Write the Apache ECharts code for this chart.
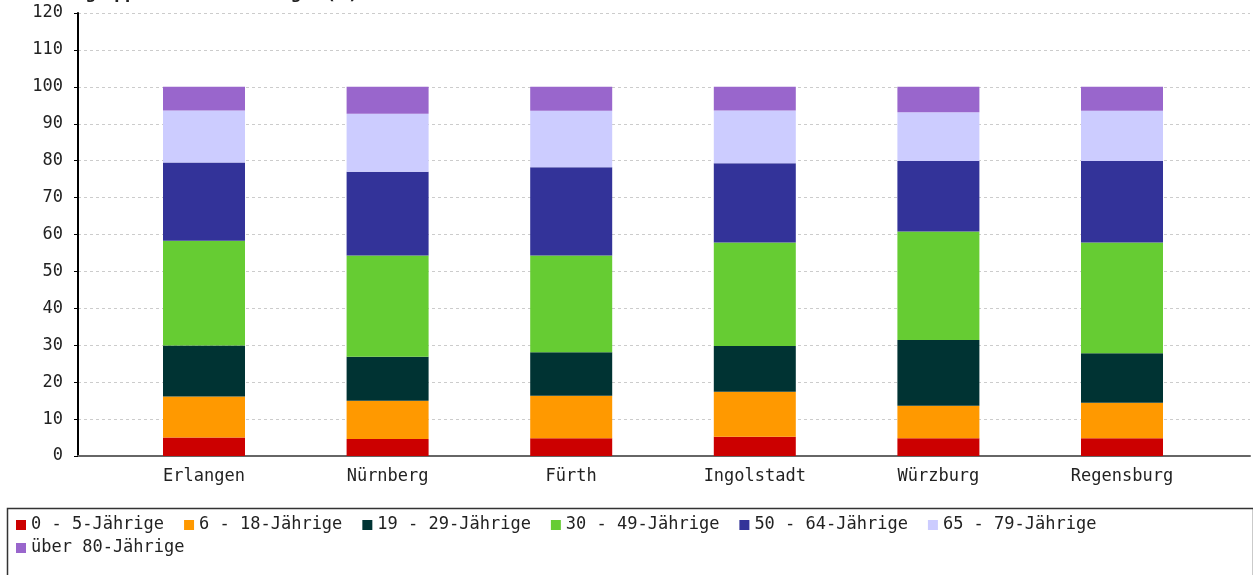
<!DOCTYPE html>
<html>
<head>
<meta charset="utf-8">
<script src="https://cdn.jsdelivr.net/npm/echarts@6/dist/echarts.min.js"></script>
<style>html,body{margin:0;padding:0;background:#fff;}#c{width:1253px;height:575px;}</style>
</head>
<body>
<div id="c"></div>
<script>
const titleText = 'Altersgruppen der Bevölkerung in (%)';
const categories = ['Erlangen', 'Nürnberg', 'Fürth', 'Ingolstadt', 'Würzburg', 'Regensburg'];
const seriesNames = ['0 - 5-Jährige', '6 - 18-Jährige', '19 - 29-Jährige', '30 - 49-Jährige', '50 - 64-Jährige', '65 - 79-Jährige', 'über 80-Jährige'];
const age0_5   = [5.0, 4.6, 4.8, 5.2, 4.8, 4.8];
const age6_18  = [11.1, 10.4, 11.5, 12.2, 8.8, 9.6];
const age19_29 = [13.8, 11.9, 11.8, 12.4, 17.8, 13.4];
const age30_49 = [28.4, 27.4, 26.2, 28.0, 29.4, 30.0];
const age50_64 = [21.2, 22.7, 23.9, 21.5, 19.1, 22.1];
const age65_79 = [14.1, 15.7, 15.3, 14.3, 13.2, 13.6];
const age80up  = [6.4, 7.3, 6.5, 6.4, 6.9, 6.5];
const yTicks = [0, 10, 20, 30, 40, 50, 60, 70, 80, 90, 100, 110, 120];

const values = [age0_5, age6_18, age19_29, age30_49, age50_64, age65_79, age80up];
const colors = ['#cc0000', '#ff9900', '#003333', '#66cc33', '#333399', '#ccccff', '#9966cc'];
const mono = 'DejaVu Sans Mono';

const legendText = {fontFamily: mono, fontSize: 17, color: '#222', lineHeight: 20};

const chart = echarts.init(document.getElementById('c'), null, {renderer: 'canvas'});
chart.setOption({
  animation: false,
  backgroundColor: '#fff',
  title: {
    text: titleText, left: 30, top: -17,
    textStyle: {fontFamily: 'DejaVu Sans', fontSize: 15, fontWeight: 'bold', color: '#222'}
  },
  grid: [
    {left: 78, right: 3, top: 13, bottom: 119},
    {left: 112.2, right: 39.2, top: 13, bottom: 119}
  ],
  xAxis: [
    {gridIndex: 0, type: 'value', min: 0, max: 1, axisLine: {show: true, lineStyle: {color: '#666', width: 2}},
     axisTick: {show: false}, axisLabel: {show: false}, splitLine: {show: false}},
    {gridIndex: 1, type: 'category', data: categories, axisLine: {show: false}, axisTick: {show: false},
     axisLabel: {margin: 12, fontFamily: mono, fontSize: 17, color: '#222'}}
  ],
  yAxis: [
    {gridIndex: 0, type: 'value', min: 0, max: 120, interval: 10,
     axisLine: {show: true, lineStyle: {color: '#000', width: 2}},
     axisTick: {show: true, length: 4, lineStyle: {color: '#000'}},
     axisLabel: {margin: 15, fontFamily: mono, fontSize: 17, color: '#222',
       formatter: v => yTicks.indexOf(v) >= 0 ? String(v) : ''},
     splitLine: {show: true, lineStyle: {color: '#ccc', type: [3, 3], width: 1}}},
    {gridIndex: 1, type: 'value', min: 0, max: 120, interval: 10, show: false}
  ],
  legend: [
    {left: 16, top: 515, itemWidth: 10, itemHeight: 10, itemGap: 20,
     icon: 'rect', padding: 0, textStyle: legendText, data: seriesNames.slice(0, 6)},
    {left: 16, top: 538, itemWidth: 10, itemHeight: 10, itemGap: 20,
     icon: 'rect', padding: 0, textStyle: legendText, data: seriesNames.slice(6)}
  ],
  graphic: [{
    type: 'rect', left: 5, top: 506, shape: {width: 1246, height: 80},
    style: {fill: 'none', stroke: '#333', lineWidth: 1.5}, silent: true
  }],
  series: seriesNames.map((n, i) => ({
    name: n, type: 'bar', stack: 'all', xAxisIndex: 1, yAxisIndex: 1,
    barWidth: 82, data: values[i], itemStyle: {color: colors[i]}
  }))
});
</script>
</body>
</html>
